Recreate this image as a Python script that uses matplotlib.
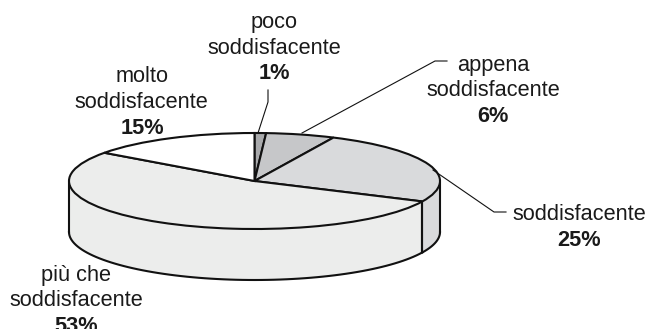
import numpy as np
import matplotlib
matplotlib.use("Agg")
import matplotlib.pyplot as plt

W, H = 649, 329
values = [1, 6, 25, 53, 15]
colors = ["#a9aaac", "#c6c7c9", "#d9dadc", "#ecedec", "#ffffff"]

# pie geometry in pixels
cx, cy, rx, ry, depth = 254.5, 181, 185.5, 48, 51

plt.rcParams['font.family'] = ['Liberation Sans', 'DejaVu Sans']

fig = plt.figure(figsize=(W / 100, H / 100), dpi=100)
ax = fig.add_axes([0, 0, 1, 1])

# top of the pie, squashed by turning off the equal aspect
ax.pie(values, colors=colors, startangle=90, counterclock=False, normalize=True,
       wedgeprops={"edgecolor": "#111111", "linewidth": 1.5, "zorder": 3})
ax.set_aspect('auto')
ax.set_xlim((0 - cx) / rx, (W - cx) / rx)
ax.set_ylim((cy - H) / ry, cy / ry)
ax.axis('off')

# side wall, front half only
d = depth / ry
edges = np.cumsum([0] + values) / sum(values) * 360
for a, b, c in zip(edges[:-1], edges[1:], colors):
    lo, hi = max(a, 90), min(b, 270)
    if lo >= hi:
        continue
    t = np.radians(np.linspace(lo, hi, 80))
    xs, ys = np.sin(t), np.cos(t)
    ax.fill_between(xs, ys, ys - d, color=c, lw=0, zorder=1)
    ax.plot(xs, ys - d, color="#111111", lw=1.5, zorder=2)
    for e in (lo, hi):
        r = np.radians(e)
        ax.plot([np.sin(r)] * 2, [np.cos(r), np.cos(r) - d], color="#111111", lw=1.5, zorder=2)


def px(x, y):
    return x / W, 1 - y / H


def leader(points):
    xy = np.array([px(*p) for p in points])
    ax.plot(xy[:, 0], xy[:, 1], color="#111111", lw=0.8, transform=fig.transFigure, zorder=4)


def label(x, y, s, bold=False):
    fig.text(*px(x, y), s, ha='center', va='baseline', fontsize=15.7, color="#1a1a1a",
             fontweight='bold' if bold else 'normal')


leader([(268, 90), (268, 102), (258, 133)])
leader([(447, 61), (435, 61), (302, 133)])
leader([(433, 170), (494, 212), (506, 212)])

label(274, 28, "poco")
label(274, 54, "soddisfacente")
label(274, 79, "1%", True)
label(142, 82, "molto")
label(141, 108, "soddisfacente")
label(142, 134, "15%", True)
label(493, 71, "appena")
label(493, 96, "soddisfacente")
label(493, 122, "6%", True)
label(579, 220, "soddisfacente")
label(579, 246, "25%", True)
label(76, 281, "più che")
label(76, 306, "soddisfacente")
label(76, 332, "53%", True)

fig.savefig("out.png", dpi=100)
